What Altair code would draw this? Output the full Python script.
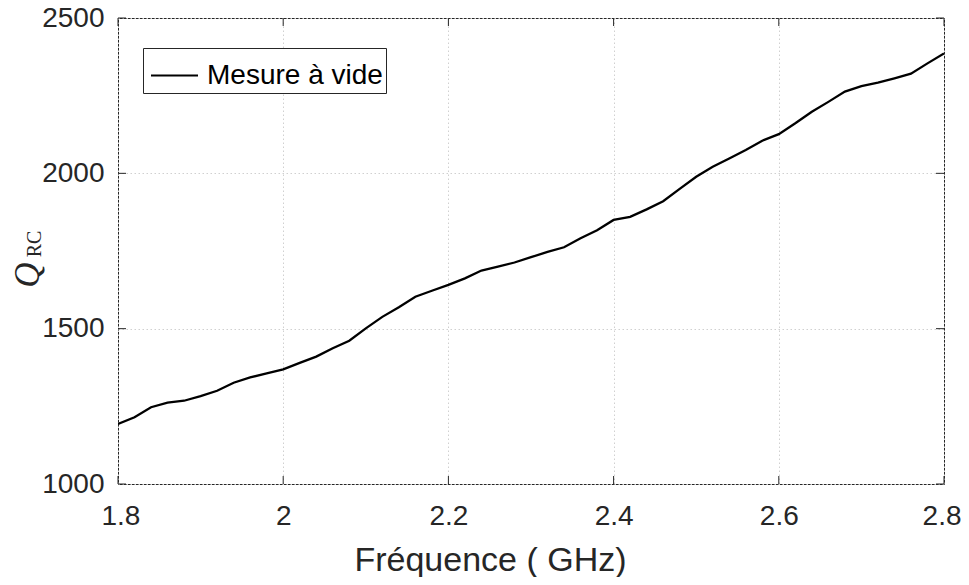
import altair as alt
import pandas as pd

# ---- data ----
freq = [1.80, 1.82, 1.84, 1.86, 1.88, 1.90, 1.92, 1.94, 1.96, 1.98,
        2.00, 2.02, 2.04, 2.06, 2.08, 2.10, 2.12, 2.14, 2.16, 2.18,
        2.20, 2.22, 2.24, 2.26, 2.28, 2.30, 2.32, 2.34, 2.36, 2.38,
        2.40, 2.42, 2.44, 2.46, 2.48, 2.50, 2.52, 2.54, 2.56, 2.58,
        2.60, 2.62, 2.64, 2.66, 2.68, 2.70, 2.72, 2.74, 2.76, 2.78, 2.80]
q_rc = [1193, 1215, 1247, 1262, 1268, 1283, 1300, 1326, 1343, 1356,
        1369, 1390, 1410, 1437, 1461, 1501, 1538, 1569, 1603, 1622,
        1641, 1662, 1687, 1700, 1713, 1730, 1747, 1762, 1791, 1817,
        1850, 1860, 1884, 1910, 1950, 1989, 2021, 2048, 2075, 2105,
        2126, 2161, 2198, 2230, 2263, 2281, 2292, 2306, 2321, 2354, 2386]
x_ticks = [1.8, 2.0, 2.2, 2.4, 2.6, 2.8]
y_ticks = [1000, 1500, 2000, 2500]
x_domain = [1.8, 2.8]
y_domain = [1000, 2500]
series_name = "Mesure à vide"
x_title = "Fréquence ( GHz)"
y_title_main = ["Q"]
y_title_sub = ["RC"]

W, H = 826, 466
TXT = "#262626"
FONT = "Liberation Sans"

df = pd.DataFrame({"f": freq, "q": q_rc, "s": [series_name] * len(freq)})
xs = alt.Scale(domain=x_domain, nice=False, zero=False)
ys = alt.Scale(domain=y_domain, nice=False, zero=False)

grid_kw = dict(grid=True, gridColor="#d0d0d0", gridDash=[1.5, 2.5], gridWidth=1,
               ticks=False, domain=False, labelFont=FONT, labelFontSize=28,
               labelColor=TXT)

line = alt.Chart(df).mark_line(strokeWidth=2.3, clip=True).encode(
    x=alt.X("f:Q", scale=xs,
            axis=alt.Axis(values=x_ticks, format="~g", labelPadding=18,
                          title=x_title, titleFont=FONT, titleFontSize=34,
                          titleFontWeight="normal", titleColor=TXT,
                          titleX=372, titleY=86, titleAlign="center",
                          titleBaseline="alphabetic", labelFlush=True,
                          labelFlushOffset=17,
                          **grid_kw)),
    y=alt.Y("q:Q", scale=ys,
            axis=alt.Axis(values=y_ticks, format="d", labelPadding=14,
                          title=None, labelFlush=False, **grid_kw)),
    color=alt.Color("s:N", scale=alt.Scale(range=["#000000"]),
                    legend=alt.Legend(orient="none", legendX=25, legendY=30,
                                      title=None, strokeColor=TXT,
                                      fillColor="white", padding=3,
                                      labelFont=FONT, labelFontSize=28,
                                      labelColor="#000000", labelLimit=500,
                                      symbolType="stroke", symbolSize=2209,
                                      symbolOffset=4,
                                      symbolStrokeWidth=2, labelOffset=8)),
)

xt = pd.DataFrame({"f": x_ticks})
yt = pd.DataFrame({"q": y_ticks})
tick_col = TXT
xb = alt.Chart(xt).mark_rule(color=tick_col, strokeWidth=1).encode(
    x=alt.X("f:Q", scale=xs), y=alt.value(H), y2=alt.value(H - 8))
xtop = alt.Chart(xt).mark_rule(color=tick_col, strokeWidth=1).encode(
    x=alt.X("f:Q", scale=xs), y=alt.value(0), y2=alt.value(8))
yl = alt.Chart(yt).mark_rule(color=tick_col, strokeWidth=1).encode(
    y=alt.Y("q:Q", scale=ys), x=alt.value(0), x2=alt.value(8))
yr = alt.Chart(yt).mark_rule(color=tick_col, strokeWidth=1).encode(
    y=alt.Y("q:Q", scale=ys), x=alt.value(W), x2=alt.value(W - 8))

qt = alt.Chart(pd.DataFrame({"t": y_title_main})).mark_text(
    font="Liberation Serif", fontStyle="italic", fontSize=35, angle=270,
    align="center", baseline="middle", color=TXT).encode(
    x=alt.value(-90), y=alt.value(257), text="t:N")
rct = alt.Chart(pd.DataFrame({"t": y_title_sub})).mark_text(
    font="Liberation Serif", fontSize=20, angle=270,
    align="center", baseline="middle", color=TXT).encode(
    x=alt.value(-83), y=alt.value(226), text="t:N")

chart = alt.layer(line, xb, xtop, yl, yr, qt, rct).properties(
    width=W, height=H,
    background="white",
    autosize=alt.AutoSizeParams(type="none"),
    padding={"left": 110, "top": 10, "right": 17, "bottom": 93},
).configure_view(stroke=TXT, strokeWidth=1)

chart.save("out.html", embed_options={"renderer": "svg", "actions": False})
